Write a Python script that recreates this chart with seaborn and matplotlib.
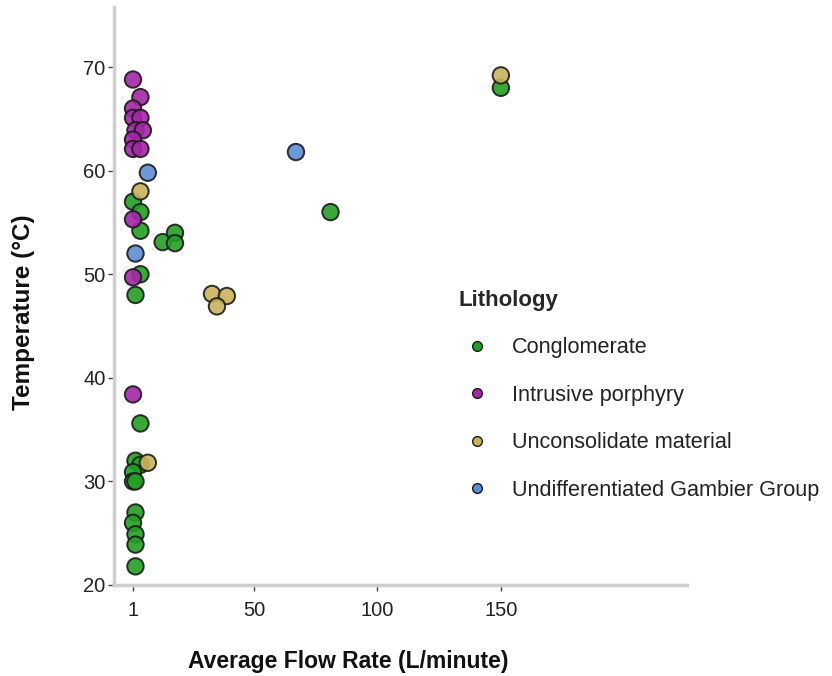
import matplotlib
matplotlib.use("Agg")
import matplotlib.pyplot as plt
import seaborn as sns
import pandas as pd
from matplotlib.lines import Line2D

# ---- data ----
lithologies = ["Conglomerate", "Intrusive porphyry", "Unconsolidate material",
               "Undifferentiated Gambier Group"]

conglomerate_flow = [1, 4, 4, 13, 18, 18, 4, 2, 4, 2, 4, 1, 1, 2, 2, 1, 2, 2, 2, 81, 150]
conglomerate_temp = [57, 56, 54.2, 53.1, 54, 53, 50, 48, 35.6, 32, 31.6, 30.9, 30, 30, 27, 26, 24.9, 23.9, 21.8, 56, 68]

porphyry_flow = [1, 4, 1, 1, 4, 2, 5, 1, 1, 4, 1, 1, 1]
porphyry_temp = [68.8, 67.1, 66, 65.1, 65.1, 63.9, 63.9, 63, 62.1, 62.1, 55.3, 49.7, 38.4]

unconsolidated_flow = [4, 150, 33, 39, 35, 7]
unconsolidated_temp = [58, 69.2, 48.1, 47.9, 46.9, 31.8]

gambier_flow = [7, 2, 67]
gambier_temp = [59.8, 52, 61.8]

x_ticks = [1, 50, 100, 150]
y_ticks = [20, 30, 40, 50, 60, 70]

colors = {
    "Conglomerate": "#22a022",
    "Intrusive porphyry": "#a426a8",
    "Unconsolidate material": "#c9b35a",
    "Undifferentiated Gambier Group": "#5b8dd2",
}

frames = []
for name, fl, tp in [
    ("Conglomerate", conglomerate_flow, conglomerate_temp),
    ("Intrusive porphyry", porphyry_flow, porphyry_temp),
    ("Unconsolidate material", unconsolidated_flow, unconsolidated_temp),
    ("Undifferentiated Gambier Group", gambier_flow, gambier_temp),
]:
    frames.append(pd.DataFrame({"flow": fl, "temp": tp, "Lithology": name}))
df = pd.concat(frames, ignore_index=True)

# ---- style ----
sns.set_style("white")
plt.rcParams["font.family"] = ["Liberation Sans", "DejaVu Sans"]

fig = plt.figure(figsize=(8.32, 6.76), dpi=100)
ax = fig.add_axes([114 / 832, 1 - 585 / 676, (687 - 114) / 832, (585 - 7) / 676])

sns.scatterplot(data=df, x="flow", y="temp", hue="Lithology", hue_order=lithologies,
                palette=colors, s=140, edgecolor="#1a1a1a", linewidth=1.4,
                alpha=0.9, legend=False, ax=ax, zorder=3)

ax.set_xlim(-6.7, 225.4)
ax.set_ylim(20, 75.8)
ax.set_xticks(x_ticks)
ax.set_xticklabels([str(v) for v in x_ticks])
ax.set_yticks(y_ticks)

for side in ["top", "right"]:
    ax.spines[side].set_visible(False)
for side in ["left", "bottom"]:
    ax.spines[side].set_color("#cfcfcf")
    ax.spines[side].set_linewidth(2.5)

ax.tick_params(axis="both", which="major", length=4, width=1, color="#444444",
               labelsize=14.5, labelcolor="#222222", pad=2, bottom=True, left=True)
ax.tick_params(axis="x", pad=7.5)

ax.set_xlabel("Average Flow Rate (L/minute)", fontsize=16.5, fontweight="bold", color="#111111")
ax.set_ylabel("Temperature (°C)", fontsize=17.5, fontweight="bold", color="#111111")
ax.xaxis.set_label_coords(0.409, -0.112)
ax.yaxis.set_label_coords(-0.137, 0.472)

handles = [Line2D([0], [0], marker="o", linestyle="", markersize=7,
                  markerfacecolor=colors[n], markeredgecolor="#1a1a1a",
                  markeredgewidth=1.0) for n in lithologies]
leg = fig.legend(handles, lithologies, title="Lithology", loc="upper left",
                 bbox_to_anchor=(458 / 832, 1 - 290 / 676), frameon=False,
                 fontsize=15.6, title_fontproperties={"weight": "bold", "size": 16},
                 handlelength=1.75, handletextpad=0.72, labelspacing=1.22,
                 borderpad=0, borderaxespad=0)
leg._legend_box.align = "left"
for t in leg.get_texts():
    t.set_color("#222222")

fig.savefig("out.png", dpi=100)
